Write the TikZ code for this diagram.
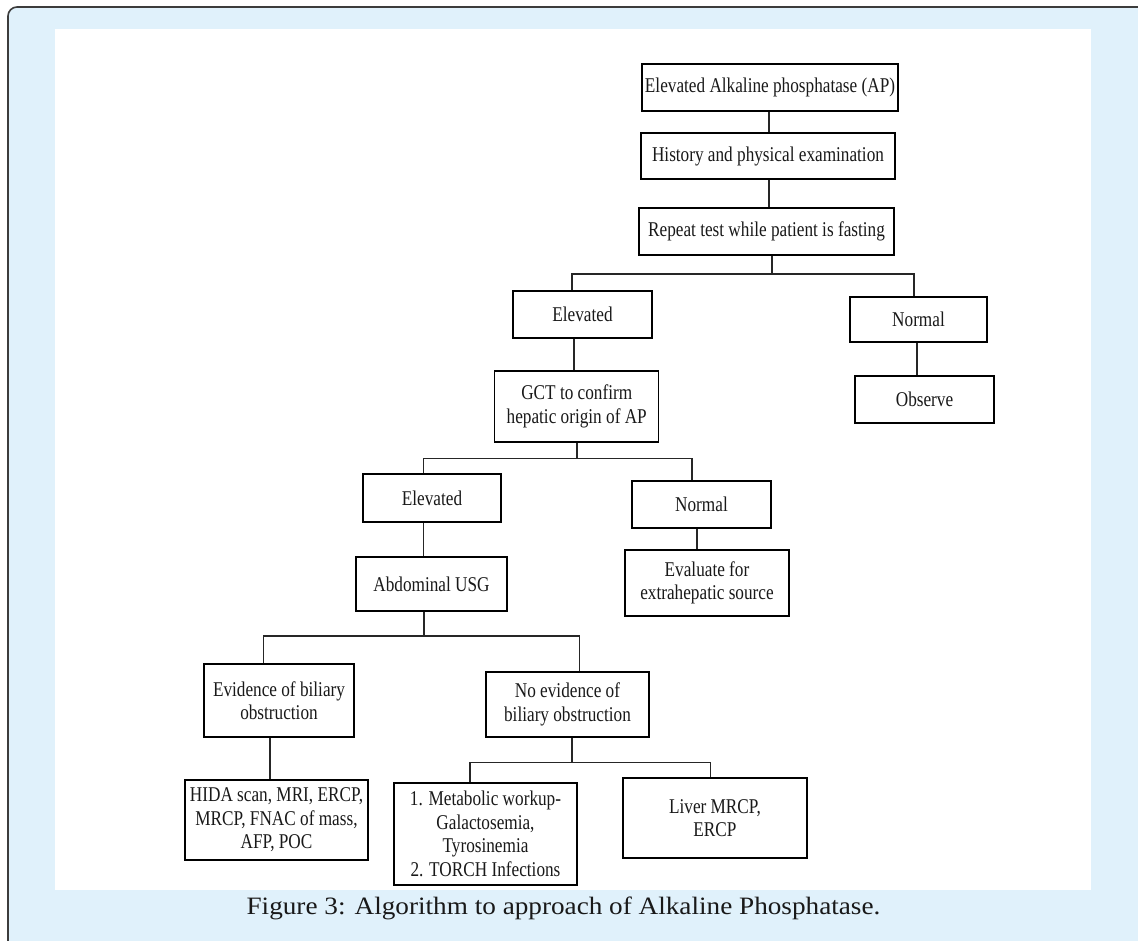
\documentclass[tikz,border=0pt]{standalone}
\usepackage{fontspec}
\setmainfont{Liberation Serif}
\newfontfamily\diagfont[FakeStretch=0.82]{Liberation Serif}
\newfontfamily\capfont[FakeStretch=1.088]{Liberation Serif}
\usetikzlibrary{shadows}
\definecolor{bgblue}{RGB}{224,241,251}
\definecolor{framegray}{RGB}{60,60,60}
\tikzset{
  box/.style={draw=black, line width=1.3pt, fill=white, align=center, inner sep=0pt,
    font=\diagfont\fontsize{21}{23.5}\selectfont, text=black!90,
    drop shadow={shadow xshift=0.6pt, shadow yshift=-1.2pt, fill=black!55, opacity=1}},
  conn/.style={draw=black!85, line width=1.3pt}
}
\begin{document}
\begin{tikzpicture}[x=1pt, y=-1pt]
\useasboundingbox (0,0) rectangle (1138,940);
\clip (0,0) rectangle (1138,940);
\fill[white] (0,0) rectangle (1138,940);
\draw[fill=bgblue, draw=framegray, line width=1.6pt, rounded corners=9pt] (8,7) rectangle (1160,960);
\fill[white] (55,29) rectangle (1091,890);

% level 1-3
\node[box, minimum width=256pt, minimum height=47pt] (b1) at (770,87.5) {Elevated Alkaline phosphatase (AP)};
\node[box, minimum width=254pt, minimum height=46pt] (b2) at (768,156) {History and physical examination};
\node[box, minimum width=255pt, minimum height=47pt] (b3) at (766.5,231.5) {Repeat test while patient is fasting};

\node[box, minimum width=139pt, minimum height=47pt] (e1) at (582.5,314.5) {Elevated};
\node[box, minimum width=137pt, minimum height=45pt] (n1) at (918.5,319.5) {Normal};
\node[box, minimum width=139pt, minimum height=47pt] (obs) at (924.5,399.5) {Observe};
\node[box, minimum width=164pt, minimum height=71pt] (gct) at (576.75,406.5) {GCT to confirm\\hepatic origin of AP};

\node[box, minimum width=138pt, minimum height=48pt] (e2) at (432,498) {Elevated};
\node[box, minimum width=139pt, minimum height=47pt] (n2) at (701.5,504.5) {Normal};
\node[box, minimum width=164pt, minimum height=66pt] (eval) at (707,583) {Evaluate for\\extrahepatic source};
\node[box, minimum width=151pt, minimum height=54pt] (usg) at (431.5,584) {Abdominal USG};

\node[box, minimum width=150pt, minimum height=73pt] (ev) at (279,700.5) {Evidence of biliary\\obstruction};
\node[box, minimum width=163pt, minimum height=65pt] (ne) at (567.5,704.5) {No evidence of\\biliary obstruction};

\node[box, minimum width=183pt, minimum height=80pt] (hida) at (276.5,820) {HIDA scan, MRI, ERCP,\\MRCP, FNAC of mass,\\AFP, POC};
\node[box, minimum width=183pt, minimum height=102pt] (meta) at (485.5,834) {1. Metabolic workup-\\Galactosemia,\\Tyrosinemia\\2. TORCH Infections};
\node[box, minimum width=184pt, minimum height=80pt] (liver) at (715,818) {Liver MRCP,\\ERCP};

% connectors
\draw[conn] (b1.south -| 769,0) -- (b2.north -| 769,0);
\draw[conn] (b2.south -| 769,0) -- (b3.north -| 769,0);
\draw[conn] (b3.south -| 772,0) -- (772,274);
\draw[conn] (e1.north -| 572,0) |- (914,274) -- (n1.north -| 914,0);
\draw[conn] (e1.south -| 574,0) -- (gct.north -| 574,0);
\draw[conn] (n1.south -| 917,0) -- (obs.north -| 917,0);

\draw[conn] (gct.south -| 577,0) -- (577,458.5);
\draw[conn] (e2.north -| 423.5,0) |- (692,458.5) -- (n2.north -| 692,0);
\draw[conn] (e2.south -| 423.5,0) -- (usg.north -| 423.5,0);
\draw[conn] (n2.south -| 697,0) -- (eval.north -| 697,0);

\draw[conn] (usg.south -| 424,0) -- (424,636);
\draw[conn] (ev.north -| 263.5,0) |- (579.5,636) -- (ne.north -| 579.5,0);
\draw[conn] (ev.south -| 270,0) -- (hida.north -| 270,0);
\draw[conn] (ne.south -| 572,0) -- (572,762.7);
\draw[conn] (meta.north -| 470,0) |- (710.5,762.7) -- (liver.north -| 710.5,0);

% caption
\node[font=\capfont\fontsize{25}{28}\selectfont, text=black!90, anchor=base] (cap) at (563.5,914) {Figure 3: Algorithm to approach of Alkaline Phosphatase.};
\end{tikzpicture}
\end{document}
